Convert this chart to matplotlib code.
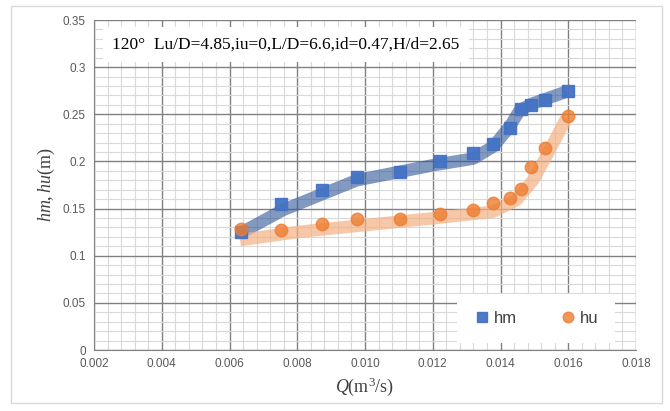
import matplotlib
matplotlib.use("Agg")
import matplotlib.pyplot as plt
from matplotlib.ticker import MultipleLocator, FixedLocator
from matplotlib.patches import Rectangle

# datos
Q = [0.00634, 0.00752, 0.00873, 0.00976, 0.01103, 0.0122, 0.0132,
     0.01377, 0.01427, 0.0146, 0.0149, 0.0153, 0.0160]
hm = [0.125, 0.155, 0.170, 0.184, 0.189, 0.200, 0.209,
      0.219, 0.235, 0.256, 0.260, 0.265, 0.275]
hu = [0.128, 0.127, 0.134, 0.139, 0.139, 0.144, 0.149,
      0.156, 0.161, 0.171, 0.194, 0.214, 0.248]

# bandas gruesas (tendencia dibujada)
Q_bm = [0.00631, 0.00758, 0.00975, 0.01201, 0.01319, 0.01378, 0.01427, 0.01457, 0.01496, 0.01594]
bm = [0.1237, 0.1485, 0.180, 0.196, 0.203, 0.2157, 0.2368, 0.2545, 0.2616, 0.2739]
Q_bu = [0.00631, 0.00808, 0.01004, 0.01201, 0.01378, 0.01447, 0.01496, 0.01545, 0.01594]
bu = [0.1166, 0.1255, 0.1326, 0.1397, 0.1467, 0.159, 0.180, 0.212, 0.2457]

titulo = "120°  Lu/D=4.85,iu=0,L/D=6.6,id=0.47,H/d=2.65"
xticks = [0.002, 0.004, 0.006, 0.008, 0.010, 0.012, 0.014, 0.016, 0.018]
xlabels = ["0.002", "0.004", "0.006", "0.008", "0.010", "0.012", "0.014", "0.016", "0.018"]
yticks = [0, 0.05, 0.1, 0.15, 0.2, 0.25, 0.3, 0.35]
ylabels = ["0", "0.05", "0.1", "0.15", "0.2", "0.25", "0.3", "0.35"]

plt.rcParams['mathtext.fontset'] = 'custom'
plt.rcParams['mathtext.rm'] = 'Liberation Serif'
plt.rcParams['mathtext.it'] = 'Liberation Serif:italic'

fig = plt.figure(figsize=(6.7, 4.11), dpi=100)
fig.patches.append(Rectangle((0.016, 0.02), 0.972, 0.965, transform=fig.transFigure,
                             fill=False, edgecolor="#d9d9d9", lw=1))
ax = fig.add_axes([0.1403, 0.1484, 0.809, 0.8029])

ax.set_xlim(0.002, 0.018)
ax.set_ylim(0, 0.35)
ax.xaxis.set_major_locator(FixedLocator(xticks))
ax.yaxis.set_major_locator(FixedLocator(yticks))
ax.set_xticklabels(xlabels)
ax.set_yticklabels(ylabels)
ax.xaxis.set_minor_locator(MultipleLocator(0.0004))
ax.yaxis.set_minor_locator(MultipleLocator(0.01))
ax.grid(which="major", color="#808080", lw=1.0)
ax.grid(which="minor", color="#d9d9d9", lw=0.8)
ax.set_axisbelow(True)
ax.tick_params(which="both", length=0, labelsize=8.5, labelcolor="#595959", pad=6)
for lab in ax.get_xticklabels() + ax.get_yticklabels():
    lab.set_family("Liberation Sans")
for s in ["top", "right"]:
    ax.spines[s].set_visible(False)
for s in ["left", "bottom"]:
    ax.spines[s].set_color("#808080")

# bandas
ax.plot(Q_bm, bm, color="#2f5597", lw=9, alpha=0.6, solid_capstyle="butt",
        solid_joinstyle="round", zorder=2)
ax.plot(Q_bu, bu, color="#f4b183", lw=9, alpha=0.7, solid_capstyle="butt",
        solid_joinstyle="round", zorder=2)

ax.plot(Q, hm, "s", color="#4472c4", ms=9, alpha=0.95, label="hm", zorder=3)
ax.plot(Q, hu, "o", color="#ed7d31", ms=9, alpha=0.8, label="hu", zorder=4)

ax.text(0.034, 0.925, titulo, transform=ax.transAxes, fontsize=12.5,
        family="Liberation Serif", va="center", ha="left",
        bbox=dict(facecolor="white", edgecolor="none", pad=7), zorder=5)

leg = ax.legend(loc="lower right", bbox_to_anchor=(0.962, 0.022), ncol=2,
                frameon=True, fancybox=False, edgecolor="none", framealpha=1,
                prop={"family": "Liberation Sans", "size": 12},
                handletextpad=0.2, columnspacing=2.6, borderpad=1.0,
                handlelength=1.0, borderaxespad=0, markerscale=0.85)
leg._legend_box.sep = 0
for t in leg.get_texts():
    t.set_color("#404040")
leg.get_frame().set_boxstyle("square", pad=0)

ax.set_xlabel(r"$Q$(m$^3$/s)", fontsize=13, family="Liberation Serif", color="#404040")
ax.set_ylabel(r"$hm,hu$(m)", fontsize=13, family="Liberation Serif", color="#404040")

fig.savefig("out.png", dpi=100)
